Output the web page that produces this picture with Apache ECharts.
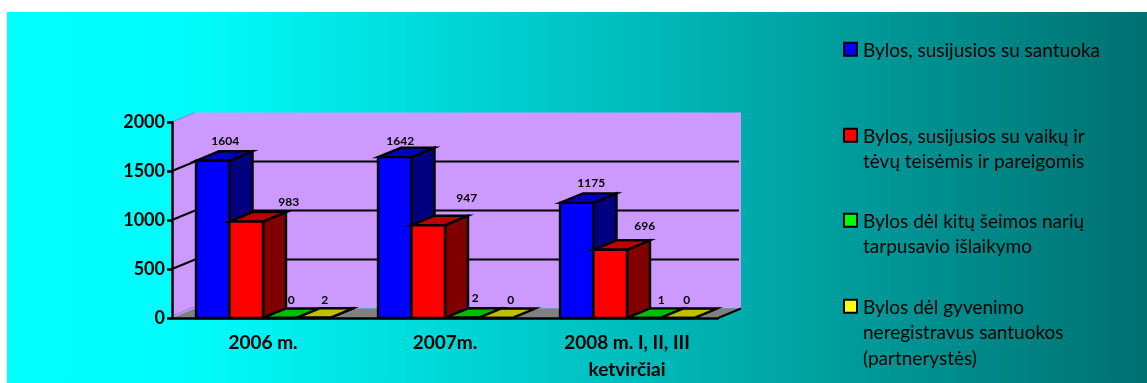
<!DOCTYPE html>
<html>
<head>
<meta charset="utf-8">
<style>
  html, body { margin: 0; padding: 0; background: #fff; }
  #main { width: 1147px; height: 383px; }
</style>
<script src="https://cdn.jsdelivr.net/npm/echarts@6/dist/echarts.min.js"></script>
</head>
<body>
<div id="main"></div>
<script>
  var categories = ['2006 m.', '2007m.', '2008 m. I, II, III\nketvirčiai']
  var seriesNames = [
    'Bylos, susijusios su santuoka',
    'Bylos, susijusios su vaikų ir\ntėvų teisėmis ir pareigomis',
    'Bylos dėl kitų šeimos narių\ntarpusavio išlaikymo',
    'Bylos dėl gyvenimo\nneregistravus santuokos\n(partnerystės)'
  ]
  var santuoka = [1604, 1642, 1175]
  var vaikai = [983, 947, 696]
  var kiti = [0, 2, 1]
  var partneryste = [2, 0, 0]
  var yTicks = [500, 1000, 1500]

  var frontColors = ['#0000ff', '#ff0000', '#00ff00', '#ffff00']
  var topColors = ['#0000bf', '#bf0000', '#00bf00', '#bfbf00']
  var sideColors = ['#000080', '#800000', '#008000', '#808000']
  // labels were moved by hand in the original chart
  var labelNudge = [
    [[1, 0], [-6, 4], [3, 0]],
    [[31, 0], [27, -8], [23, -4]],
    [[0, 2], [2, 0], [6, 2]],
    [[0, 2], [4, 2], [-2, 2]]
  ]
  var legendTops = [38, 124, 209, 295]
  var lineHeight = 25.5

  var depthX = 23
  var depthY = 9.5
  var barShare = 0.184
  var font = 'Lato, Carlito, sans-serif'

  var chart = echarts.init(document.getElementById('main'))

  function poly(points, fill) {
    return {
      type: 'polygon',
      shape: { points: points },
      style: { fill: fill, stroke: '#000', lineWidth: 2.4, lineJoin: 'miter' }
    }
  }

  function renderBar(seriesIndex) {
    return function (params, api) {
      var i = api.value(0)
      var base = api.coord([i, 0])
      var top = api.coord([i, api.value(1)])
      var w = api.size([1, 0])[0] * barShare
      var x0 = base[0] + (seriesIndex - 2) * w
      var x1 = x0 + w
      var y0 = base[1]
      var y1 = top[1]
      var nudge = labelNudge[seriesIndex][i]
      return {
        type: 'group',
        children: [
          poly([[x1, y0], [x1 + depthX, y0 - depthY], [x1 + depthX, y1 - depthY], [x1, y1]], sideColors[seriesIndex]),
          poly([[x0, y1], [x0 + depthX, y1 - depthY], [x1 + depthX, y1 - depthY], [x1, y1]], topColors[seriesIndex]),
          poly([[x0, y0], [x1, y0], [x1, y1], [x0, y1]], frontColors[seriesIndex]),
          {
            type: 'text',
            style: {
              text: String(api.value(1)),
              x: (x0 + x1 + depthX) / 2 + nudge[0],
              y: y1 - depthY - 10 + nudge[1],
              align: 'center',
              verticalAlign: 'middle',
              font: 'bold 12px ' + font,
              fill: '#000'
            }
          }
        ]
      }
    }
  }

  // back wall, side wall and floor
  function renderWalls(params) {
    var c = params.coordSys
    var l = c.x, t = c.y, r = c.x + c.width, b = c.y + c.height
    var shape = function (points, fill) {
      return { type: 'polygon', shape: { points: points }, style: { fill: fill } }
    }
    return {
      type: 'group',
      children: [
        shape([[l + depthX, t - depthY], [r + depthX, t - depthY], [r + depthX, b - depthY], [l + depthX, b - depthY]], '#cc99ff'),
        shape([[l, t], [l + depthX, t - depthY], [l + depthX, b - depthY], [l, b]], '#cc99ff'),
        shape([[l, b], [l + depthX, b - depthY], [r + depthX, b - depthY], [r, b]], '#808080'),
        { type: 'line', shape: { x1: l, y1: t, x2: l + depthX, y2: t - depthY }, style: { stroke: '#8a66b0', lineWidth: 1, lineDash: [2, 1] } },
        { type: 'line', shape: { x1: l, y1: b - 2, x2: l + depthX, y2: b - depthY - 2 }, style: { stroke: '#8a66b0', lineWidth: 1, lineDash: [2, 1] } },
        { type: 'line', shape: { x1: r, y1: b, x2: r + depthX, y2: b - depthY }, style: { stroke: '#000', lineWidth: 2 } }
      ]
    }
  }

  function renderGridLine(params, api) {
    var c = params.coordSys
    var y = api.coord([0, api.value(0)])[1]
    return {
      type: 'group',
      children: [{
        type: 'polyline',
        shape: { points: [[c.x, y], [c.x + depthX, y - depthY], [c.x + c.width + depthX - 2, y - depthY]] },
        style: { fill: null, stroke: '#000', lineWidth: 2 }
      }]
    }
  }

  var barData = [santuoka, vaikai, kiti, partneryste]
  var series = [
    { type: 'custom', name: 'walls', z: 1, silent: true, data: [[0]], renderItem: renderWalls, encode: { y: 0 } },
    { type: 'custom', name: 'grid', z: 1, silent: true, data: yTicks.map(function (v) { return [v] }), renderItem: renderGridLine, encode: { y: 0 } }
  ]
  barData.forEach(function (values, s) {
    series.push({
      type: 'custom',
      name: seriesNames[s],
      z: 3,
      itemStyle: { color: frontColors[s] },
      encode: { x: 0, y: 1 },
      data: values.map(function (v, i) { return [i, v] }),
      renderItem: renderBar(s)
    })
  })

  chart.setOption({
    animation: false,
    grid: { left: 172, top: 122, width: 546, height: 197 },
    graphic: [{
      type: 'rect',
      z: -10,
      shape: { x: 7, y: 12, width: 1140, height: 371 },
      style: {
        fill: new echarts.graphic.LinearGradient(0, 0, 1, 0, [
          { offset: 0, color: '#00ffff' },
          { offset: 0.17, color: '#00fbfb' },
          { offset: 1, color: '#007070' }
        ])
      }
    }],
    legend: seriesNames.map(function (name, s) {
      var lines = name.split('\n').length
      // tall icon box with the square at its top, so it sits on the first text line
      var boxHeight = 18 + lineHeight * (lines - 1)
      return {
        data: [name],
        left: 842,
        top: legendTops[s],
        padding: 0,
        icon: 'path://M1 1H14V14H1ZM0 0L0.01 0M15 ' + boxHeight + 'L15.01 ' + boxHeight,
        itemWidth: 15,
        itemHeight: boxHeight,
        itemGap: 0,
        selectedMode: false,
        itemStyle: { borderColor: '#000', borderWidth: 2 },
        textStyle: {
          fontFamily: font,
          fontSize: 19,
          lineHeight: lineHeight,
          color: '#000'
        }
      }
    }),
    xAxis: {
      type: 'category',
      data: categories,
      z: 5,
      axisLine: { lineStyle: { color: '#000', width: 2.5 } },
      axisTick: { length: 5, lineStyle: { color: '#000', width: 2.5 } },
      axisLabel: { color: '#000', fontFamily: font, fontWeight: 'bold', fontSize: 19, lineHeight: 27, margin: 11 }
    },
    yAxis: {
      type: 'value',
      min: 0,
      max: 2000,
      interval: 500,
      z: 5,
      axisLine: { show: true, lineStyle: { color: '#000', width: 2.5 } },
      axisTick: { show: true, length: 5, lineStyle: { color: '#000', width: 2.5 } },
      splitLine: { show: false },
      axisLabel: {
        color: '#000', fontFamily: font, fontWeight: 'bold', fontSize: 18, margin: 7,
        formatter: function (v) { return String(v) }
      }
    },
    series: series
  })
</script>
</body>
</html>
